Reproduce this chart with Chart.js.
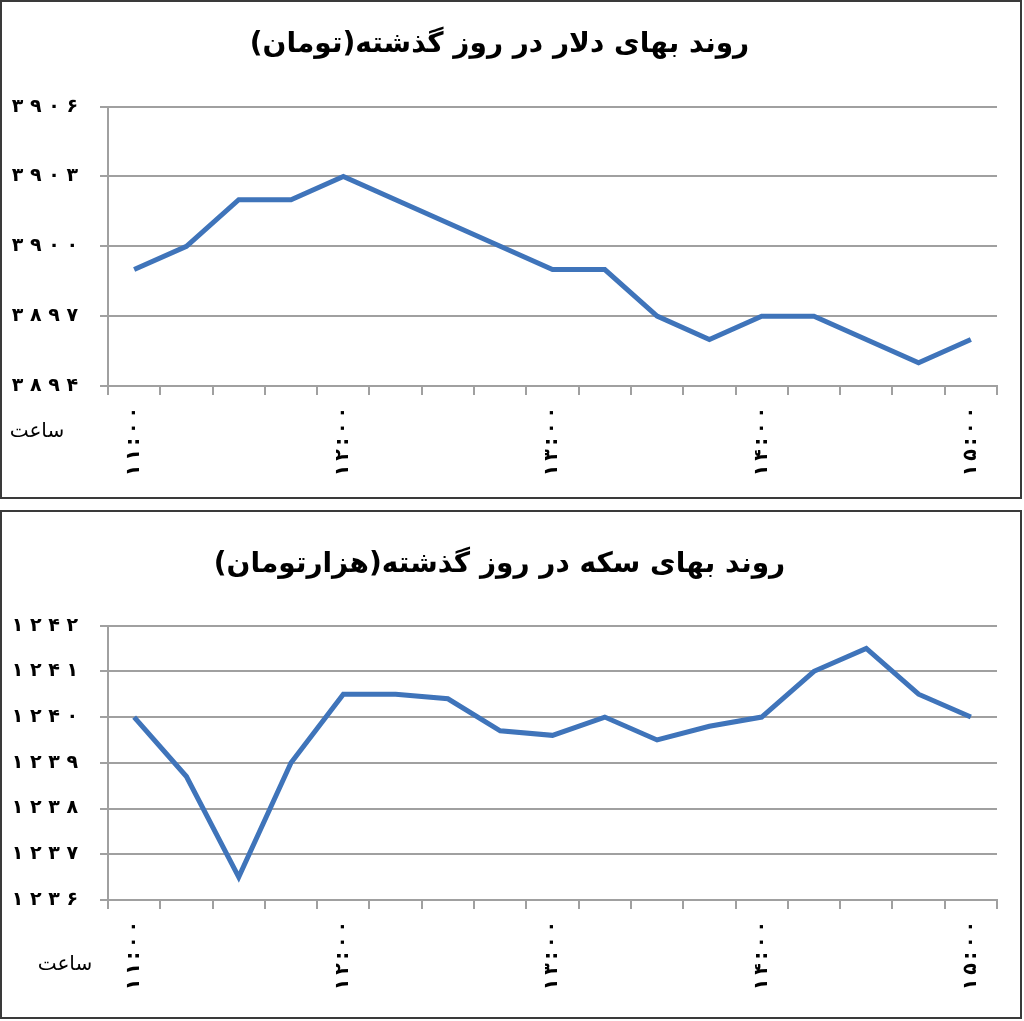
<!DOCTYPE html>
<html>
<head>
<meta charset="utf-8">
<script src="https://cdn.jsdelivr.net/npm/chart.js@4/dist/chart.umd.min.js"></script>
<style>
    body { margin: 0; background: #fff; }
    .box { position: absolute; left: 0; width: 1022px; border: 2px solid #3a3a3a; box-sizing: border-box; background: #fff; }
    canvas { display: block; }
</style>
</head>
<body>
<div class="box" style="top:0; height:499px;"><canvas id="dollarChart" width="1018" height="495" dir="rtl"></canvas></div>
<div class="box" style="top:510px; height:509px;"><canvas id="coinChart" width="1018" height="505" dir="rtl"></canvas></div>
<script>
    // times, every 15 minutes
    var times = ["11:00", "11:15", "11:30", "11:45", "12:00", "12:15", "12:30", "12:45", "13:00",
        "13:15", "13:30", "13:45", "14:00", "14:15", "14:30", "14:45", "15:00"];
    var dollarPrices = [3899, 3900, 3902, 3902, 3903, 3902, 3901, 3900, 3899, 3899, 3897, 3896, 3897, 3897, 3896, 3895, 3896];
    var coinPrices = [1240, 1238.7, 1236.5, 1239, 1240.5, 1240.5, 1240.4, 1239.7, 1239.6, 1240, 1239.5, 1239.8, 1240, 1241, 1241.5, 1240.5, 1240];
    var dollarTitle = "روند بهای دلار در روز گذشته(تومان)";
    var coinTitle = "روند بهای سکه در روز گذشته(هزارتومان)";
    var hourLabel = "ساعت";

    var FONT = "'DejaVu Sans', sans-serif";
    var LINE_COLOR = "#3f74ba";
    var GRID_COLOR = "#a0a0a0";

    function toFa(s) {
        return String(s).replace(/[0-9]/g, function(d) { return "۰۱۲۳۴۵۶۷۸۹"[+d]; });
    }

    var hourLabelPlugin = {
        id: "hourLabel",
        afterDraw: function(chart, args, opts) {
            var ctx = chart.ctx;
            ctx.save();
            ctx.font = "20px " + FONT;
            ctx.fillStyle = "#000";
            ctx.textAlign = "center";
            ctx.textBaseline = "middle";
            ctx.fillText(hourLabel, opts.x, opts.y);
            ctx.restore();
        }
    };

    function makeChart(canvasId, title, values, min, max, step, layout) {
        return new Chart(document.getElementById(canvasId), {
            type: "line",
            data: {
                labels: times,
                datasets: [{
                    data: values,
                    borderColor: LINE_COLOR,
                    borderWidth: 5,
                    pointRadius: 0,
                    tension: 0,
                    fill: false
                }]
            },
            plugins: [hourLabelPlugin],
            options: {
                responsive: false,
                animation: false,
                layout: { padding: { left: 0, right: 23, top: 0, bottom: 0 } },
                plugins: {
                    legend: { display: false },
                    tooltip: { enabled: false },
                    title: {
                        display: true,
                        text: title,
                        color: "#000",
                        font: { family: FONT, size: 28, weight: "bold", lineHeight: 1.2 },
                        padding: { top: layout.titleTop, bottom: layout.titleBottom }
                    },
                    hourLabel: { x: layout.hourX, y: layout.hourY }
                },
                scales: {
                    x: {
                        offset: true,
                        grid: {
                            offset: true,
                            drawOnChartArea: false,
                            drawTicks: true,
                            tickLength: 9,
                            color: GRID_COLOR,
                            lineWidth: 2
                        },
                        border: { display: true, color: GRID_COLOR, width: 2 },
                        ticks: {
                            autoSkip: false,
                            minRotation: 90,
                            maxRotation: 90,
                            padding: 12,
                            color: "#000",
                            font: { family: FONT, size: 19, weight: "bold" },
                            // only the full hours are labelled
                            callback: function(val, i) {
                                return i % 4 === 0 ? "\u200E" + toFa(times[i]).split("").join("\u2009") : "";
                            }
                        },
                        afterFit: function(scale) { scale.height = layout.xHeight; }
                    },
                    y: {
                        min: min,
                        max: max,
                        grid: { color: GRID_COLOR, lineWidth: 2, tickLength: 8 },
                        border: { display: true, color: GRID_COLOR, width: 2 },
                        ticks: {
                            stepSize: step,
                            padding: 22,
                            color: "#000",
                            font: { family: FONT, size: 19, weight: "bold" },
                            // LRM keeps the spaced digits in left-to-right order
                            callback: function(v) { return "\u200E" + toFa(v).split("").join(" "); }
                        },
                        afterFit: function(scale) { scale.width = 106; }
                    }
                }
            }
        });
    }

    makeChart("dollarChart", dollarTitle, dollarPrices, 3894, 3906, 3,
        { titleTop: 26, titleBottom: 45, xHeight: 111, hourX: 35, hourY: 430 });
    makeChart("coinChart", coinTitle, coinPrices, 1236, 1242, 1,
        { titleTop: 36, titleBottom: 44, xHeight: 117, hourX: 63, hourY: 453 });
</script>
</body>
</html>
